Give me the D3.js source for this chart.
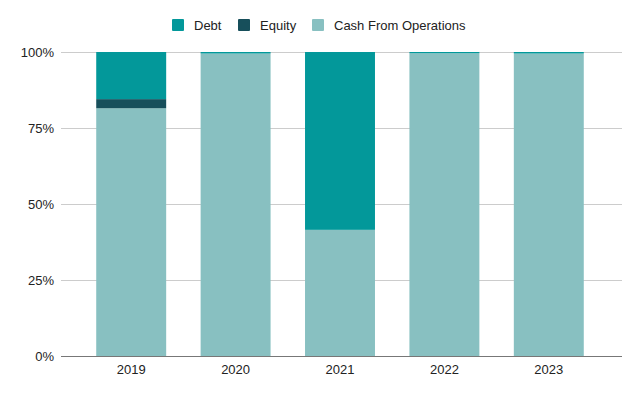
<!DOCTYPE html>
<html>
<head>
<meta charset="utf-8">
<script src="https://cdn.jsdelivr.net/npm/d3@7"></script>
<style>
  body { margin: 0; background: #fff; }
  svg { font-family: "Liberation Sans", Arial, sans-serif; }
</style>
</head>
<body>
<div id="chart"></div>
<script>
// Funding mix per year (share of total)
const years = ["2019", "2020", "2021", "2022", "2023"];
const cashFromOps = [0.815, 0.995, 0.415, 0.996, 0.995];
const equity = [0.03, 0, 0, 0, 0];
const debt = [0.155, 0.005, 0.585, 0.004, 0.005];
const yTicks = [0, 0.25, 0.5, 0.75, 1];

const seriesNames = ["Debt", "Equity", "Cash From Operations"];
const colors = { "Debt": "#03989a", "Equity": "#174f5b", "Cash From Operations": "#88c0c1" };

const width = 640, height = 396;
const margin = { top: 52, left: 61, right: 18, bottom: 40 };

const rows = years.map((y, i) => ({
    year: y,
    "Cash From Operations": cashFromOps[i],
    "Equity": equity[i],
    "Debt": debt[i]
}));

const stack = d3.stack().keys(["Cash From Operations", "Equity", "Debt"]);
const layers = stack(rows);

const svg = d3.select("#chart").append("svg")
    .attr("width", width)
    .attr("height", height);

const x = d3.scaleBand()
    .domain(years)
    .range([79, 601])
    .paddingInner(0.33)
    .paddingOuter(0.165);

const y = d3.scaleLinear()
    .domain([0, 1])
    .range([356, margin.top]);

// gridlines
svg.append("g")
    .selectAll("line")
    .data(yTicks.filter(t => t > 0))
    .enter().append("line")
    .attr("x1", margin.left)
    .attr("x2", width - margin.right)
    .attr("y1", d => Math.round(y(d)) + 0.5)
    .attr("y2", d => Math.round(y(d)) + 0.5)
    .attr("stroke", "#cccccc")
    .attr("stroke-width", 1);

// y labels
svg.append("g")
    .selectAll("text")
    .data(yTicks)
    .enter().append("text")
    .attr("x", 54)
    .attr("y", d => y(d))
    .attr("dy", "0.35em")
    .attr("text-anchor", "end")
    .attr("fill", "#222")
    .style("font-size", "13px")
    .text(d3.format(".0%"));

// bars
svg.append("g")
    .selectAll("g")
    .data(layers)
    .enter().append("g")
    .attr("fill", d => colors[d.key])
    .selectAll("rect")
    .data(d => d)
    .enter().append("rect")
    .attr("x", d => x(d.data.year))
    .attr("width", x.bandwidth())
    .attr("y", d => y(d[1]))
    .attr("height", d => Math.max(0, y(d[0]) - y(d[1])));

// baseline
svg.append("line")
    .attr("x1", margin.left)
    .attr("x2", width - margin.right)
    .attr("y1", y(0) + 0.5)
    .attr("y2", y(0) + 0.5)
    .attr("stroke", "#777")
    .attr("stroke-width", 1);

// x labels
svg.append("g")
    .selectAll("text")
    .data(years)
    .enter().append("text")
    .attr("x", d => x(d) + x.bandwidth() / 2)
    .attr("y", 374)
    .attr("text-anchor", "middle")
    .attr("fill", "#222")
    .style("font-size", "13px")
    .text(d => d);

// legend
const legendX = [172, 238, 312];
const legend = svg.append("g")
    .selectAll("g")
    .data(seriesNames)
    .enter().append("g")
    .attr("transform", (d, i) => `translate(${legendX[i]},19)`);

legend.append("rect")
    .attr("width", 12)
    .attr("height", 12)
    .attr("rx", 1)
    .attr("fill", d => colors[d]);

legend.append("text")
    .attr("x", 22)
    .attr("y", 6)
    .attr("dy", "0.35em")
    .attr("fill", "#222")
    .style("font-size", "13px")
    .text(d => d);
</script>
</body>
</html>
